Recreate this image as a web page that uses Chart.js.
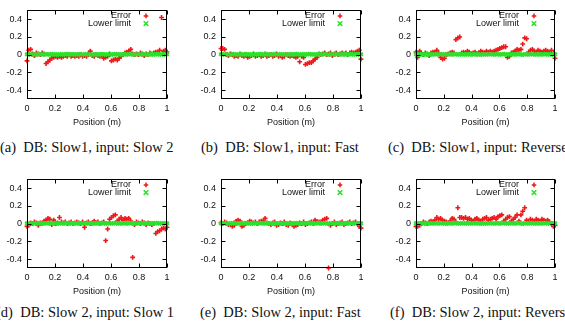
<!DOCTYPE html>
<html><head><meta charset="utf-8">
<script src="https://cdn.jsdelivr.net/npm/chart.js@4.4.0/dist/chart.umd.min.js"></script>
<style>
html,body{margin:0;padding:0;background:#fff;width:565px;height:323px;overflow:hidden;position:relative}
canvas{position:absolute;display:block}
.cap{position:absolute;font-family:'Liberation Serif','Times New Roman',serif;font-size:14.5px;line-height:1;white-space:pre;color:#111}
</style></head><body>
<script>
// ---- data ----
const xTicks = [0, 0.2, 0.4, 0.6, 0.8, 1];
const yTicks = [-0.4, -0.2, 0, 0.2, 0.4];
const seriesNames = ['Error', 'Lower limit'];
const captions = [
  '(a)  DB: Slow1, input: Slow 2',
  '(b)  DB: Slow1, input: Fast',
  '(c)  DB: Slow1, input: Reverse',
  '(d)  DB: Slow 2, input: Slow 1',
  '(e)  DB: Slow 2, input: Fast',
  '(f)  DB: Slow 2, input: Reverse'
];
const positions = [
  0.000,0.012,0.026,0.040,0.053,0.067,0.081,0.095,0.108,0.122,
  0.136,0.150,0.163,0.177,0.191,0.205,0.218,0.232,0.246,0.260,
  0.273,0.287,0.301,0.315,0.328,0.342,0.356,0.370,0.383,0.397,
  0.411,0.425,0.438,0.452,0.466,0.480,0.493,0.507,0.521,0.535,
  0.548,0.562,0.576,0.590,0.603,0.617,0.631,0.645,0.658,0.672,
  0.686,0.700,0.713,0.727,0.741,0.755,0.768,0.782,0.796,0.810,
  0.823,0.837,0.851,0.865,0.878,0.892,0.906,0.920,0.933,0.947,
  0.961,0.975,0.988,1.000
];
const errA = [
  -0.07,0.05,0.06,0.01,-0.01,0.02,0.01,0.00,0.02,0.01,
  -0.10,-0.08,-0.06,-0.04,-0.03,-0.02,-0.03,-0.02,-0.03,-0.02,
  -0.01,-0.02,0.00,-0.02,-0.01,-0.02,-0.01,-0.02,0.00,-0.02,
  -0.01,-0.02,0.01,0.04,-0.01,-0.02,0.00,-0.01,-0.02,-0.01,
  -0.04,-0.03,-0.02,0.01,-0.07,-0.06,-0.05,-0.06,-0.04,-0.02,
  0.00,0.02,0.03,0.04,0.06,0.01,0.00,0.01,0.00,0.02,
  0.01,-0.01,0.01,0.00,0.02,0.01,0.02,0.03,0.03,0.05,
  0.42,0.04,0.05,0.03
];
const errB = [
  0.07,0.07,0.06,0.00,-0.01,0.01,0.00,-0.02,-0.01,-0.02,
  0.01,-0.01,-0.02,0.00,-0.03,-0.02,-0.01,0.01,-0.02,-0.01,
  0.00,-0.02,-0.01,0.01,-0.02,-0.01,0.00,-0.02,-0.01,0.01,
  -0.02,-0.01,-0.03,-0.02,0.00,-0.01,-0.02,-0.01,-0.02,-0.03,
  -0.02,-0.08,-0.02,-0.03,-0.11,-0.10,-0.09,-0.09,-0.07,-0.05,
  -0.03,0.01,0.00,0.01,0.02,0.00,0.01,0.02,-0.01,0.01,
  0.02,0.00,0.01,0.02,0.01,0.02,0.00,0.02,0.03,0.02,
  0.03,0.04,0.05,-0.05
];
const errC = [
  0.03,-0.03,0.04,0.01,0.00,0.02,0.01,-0.01,0.02,0.03,
  0.03,0.05,0.02,-0.03,-0.05,-0.04,0.00,0.01,0.02,0.03,
  0.02,0.17,0.19,0.20,0.02,0.03,0.02,0.04,0.03,0.01,
  0.02,0.03,0.01,0.02,0.04,0.03,0.02,0.04,0.03,0.04,
  0.03,0.04,0.05,0.06,0.07,0.08,0.09,0.09,-0.03,-0.02,
  0.02,0.03,0.04,0.06,0.05,0.06,0.12,0.19,0.18,0.03,
  0.05,0.06,0.04,0.03,0.05,0.04,0.03,0.04,0.05,0.04,
  0.03,0.05,0.02,-0.04
];
const errD = [
  -0.03,-0.02,0.01,0.00,0.02,0.01,-0.02,0.01,0.00,0.03,
  0.04,0.06,0.05,-0.01,0.04,0.00,0.01,0.07,0.02,0.01,
  0.02,0.00,0.01,0.02,0.00,0.01,0.02,0.01,0.00,0.02,
  -0.04,0.01,0.02,0.00,0.01,0.03,0.01,0.02,0.00,0.01,
  0.02,-0.19,-0.06,0.05,0.07,0.09,0.10,0.03,0.05,0.07,
  0.04,0.06,0.05,0.06,0.03,-0.38,-0.01,0.02,0.01,0.00,
  0.02,0.01,-0.01,0.01,0.00,-0.01,0.00,-0.11,-0.09,-0.08,
  -0.06,-0.05,-0.06,-0.04
];
const errE = [
  0.01,0.00,0.02,0.01,-0.01,-0.01,-0.03,-0.02,0.03,0.04,
  0.03,-0.03,-0.02,0.00,0.01,0.03,0.02,0.01,0.02,0.00,
  0.02,0.03,0.03,0.06,0.01,0.00,-0.01,0.01,0.02,-0.02,
  -0.01,0.01,0.00,0.02,-0.01,-0.02,0.01,0.00,-0.03,-0.02,
  -0.01,0.01,0.00,0.02,-0.01,0.00,0.01,0.02,0.00,0.04,
  0.02,0.02,0.01,0.04,0.05,0.06,-0.50,-0.02,0.00,0.02,
  -0.01,0.00,0.01,0.02,-0.01,0.00,0.01,0.02,0.00,0.01,
  0.02,0.00,-0.03,-0.05
];
const errF = [
  -0.03,-0.03,-0.02,0.00,0.02,0.01,0.00,0.02,0.03,0.02,
  0.04,0.07,0.05,0.06,0.04,0.03,0.02,0.01,0.03,0.06,
  0.05,0.02,0.18,0.07,0.07,0.06,0.07,0.05,0.06,0.04,
  0.03,0.05,0.06,0.04,0.03,0.05,0.06,0.07,0.04,0.05,
  0.06,0.07,0.05,0.08,0.09,0.10,0.03,0.05,0.07,0.08,
  0.03,0.05,0.07,0.10,0.03,0.10,0.14,0.18,0.04,0.02,
  0.05,0.04,0.03,0.05,0.04,0.03,0.05,0.04,0.03,0.04,
  0.02,0.00,-0.03,-0.02
];
const lowerLimit = [
  0.004,0.001,0.006,0.002,0.005,0.000,0.007,0.003,0.005,0.001,
  0.006,0.004,0.002,0.007,0.003,0.005,0.000,0.006,0.004,0.002,
  0.005,0.007,0.001,0.004,0.006,0.002,0.005,0.003,0.007,0.001,
  0.004,0.006,0.002,0.005,0.000,0.006,0.003,0.005,0.002,0.007,
  0.004,0.001,0.005,0.006,0.002,0.004,0.007,0.003,0.005,0.001,
  0.006,0.004,0.002,0.005,0.007,0.003,0.000,0.005,0.006,0.002,
  0.004,0.007,0.001,0.005,0.003,0.006,0.002,0.004,0.007,0.001,
  0.005,0.003,0.006,0.004
];
const errorSets = [errA, errB, errC, errD, errE, errF];

// ---- layout ----
const RED = '#ee1a1a', GREEN = '#2ee02e';
const layoutPanels = [
  {left:0,   top:0,   w:140, capX:0,   capY:140},
  {left:194, top:0,   w:140, capX:201, capY:140},
  {left:389, top:0,   w:139, capX:388, capY:140},
  {left:0,   top:169, w:140, capX:-4,  capY:305},
  {left:194, top:169, w:140, capX:200, capY:305},
  {left:389, top:169, w:139, capX:390, capY:305}
];
const FONT = {family:"'Liberation Sans', Arial, sans-serif", size:9};

const framePlugin = {
  id: 'frame',
  afterDraw(chart) {
    const {ctx, chartArea:{left,right,top,bottom}, scales:{x,y}} = chart;
    ctx.save();
    ctx.strokeStyle = '#000'; ctx.lineWidth = 1;
    const L = Math.round(left)+0.5, R = Math.round(right)-0.5, T = Math.round(top)+0.5, B = Math.round(bottom)-0.5;
    ctx.strokeRect(L, T, R-L, B-T);
    ctx.beginPath();
    xTicks.forEach(v => { const px = Math.round(x.getPixelForValue(v))+0.5;
      ctx.moveTo(px,B); ctx.lineTo(px,B-4); ctx.moveTo(px,T); ctx.lineTo(px,T+4); });
    yTicks.forEach(v => { const py = Math.round(y.getPixelForValue(v))+0.5;
      ctx.moveTo(L,py); ctx.lineTo(L+4,py); ctx.moveTo(R,py); ctx.lineTo(R-4,py); });
    ctx.stroke();
    // key
    ctx.font = "9px 'Liberation Sans', Arial, sans-serif";
    ctx.textAlign = 'right'; ctx.textBaseline = 'middle'; ctx.fillStyle = '#111';
    chart.data.datasets.forEach((ds, i) => {
      const ky = top + 5.5 + i*7.7;
      ctx.fillText(ds.label, right - 36, ky);
      const mx = right - 21, r = 2.3;
      ctx.strokeStyle = ds.borderColor; ctx.lineWidth = 1.5;
      ctx.beginPath();
      if (ds.pointStyle === 'cross') { ctx.moveTo(mx-r,ky); ctx.lineTo(mx+r,ky); ctx.moveTo(mx,ky-r); ctx.lineTo(mx,ky+r); }
      else { ctx.moveTo(mx-r,ky-r); ctx.lineTo(mx+r,ky+r); ctx.moveTo(mx-r,ky+r); ctx.lineTo(mx+r,ky-r); }
      ctx.stroke();
    });
    ctx.restore();
  }
};

layoutPanels.forEach((p, k) => {
  const cv = document.createElement('canvas');
  const W = 27 + p.w + 10, H = 128;
  cv.width = W; cv.height = H;
  cv.style.left = p.left + 'px'; cv.style.top = p.top + 'px';
  cv.style.width = W + 'px'; cv.style.height = H + 'px';
  document.body.appendChild(cv);
  const cap = document.createElement('div');
  cap.className = 'cap'; cap.textContent = captions[k];
  cap.style.left = p.capX + 'px'; cap.style.top = p.capY + 'px';
  document.body.appendChild(cap);

  const errPts = positions.map((x, i) => ({x, y: errorSets[k][i]}));
  const limPts = positions.map((x, i) => ({x, y: lowerLimit[i]}));
  new Chart(cv, {
    type: 'scatter',
    data: { datasets: [
      {label: seriesNames[0], data: errPts, pointStyle:'cross', pointRadius:2.4, borderWidth:1.6,
       borderColor: RED, backgroundColor: RED, order: 1, clip: false},
      {label: seriesNames[1], data: limPts, pointStyle:'crossRot', pointRadius:2.4, borderWidth:2.2,
       borderColor: GREEN, backgroundColor: GREEN, order: 0, clip: false}
    ]},
    options: {
      responsive: false, animation: false, devicePixelRatio: 1,
      layout: {padding: {left:0, right:10, top:5, bottom:0}},
      plugins: {legend: {display:false}, tooltip: {enabled:false}},
      events: [],
      scales: {
        x: {type:'linear', min:0, max:1,
          afterBuildTicks: s => { s.ticks = xTicks.map(v => ({value:v})); },
          afterFit: s => { s.height = 29; },
          grid: {display:false, drawTicks:false}, border: {display:false},
          ticks: {padding:4, font:FONT, color:'#111', maxRotation:0, autoSkip:false, callback: v => String(v)},
          title: {display:true, text:'Position (m)', font:FONT, color:'#111', padding:0}},
        y: {type:'linear', min:-0.5, max:0.5,
          afterBuildTicks: s => { s.ticks = yTicks.map(v => ({value:v})); },
          afterFit: s => { s.width = 27; },
          grid: {display:false, drawTicks:false}, border: {display:false},
          ticks: {padding:5, font:FONT, color:'#111', autoSkip:false, callback: v => String(v)}}
      }
    },
    plugins: [framePlugin]
  });
});
</script>
</body></html>
